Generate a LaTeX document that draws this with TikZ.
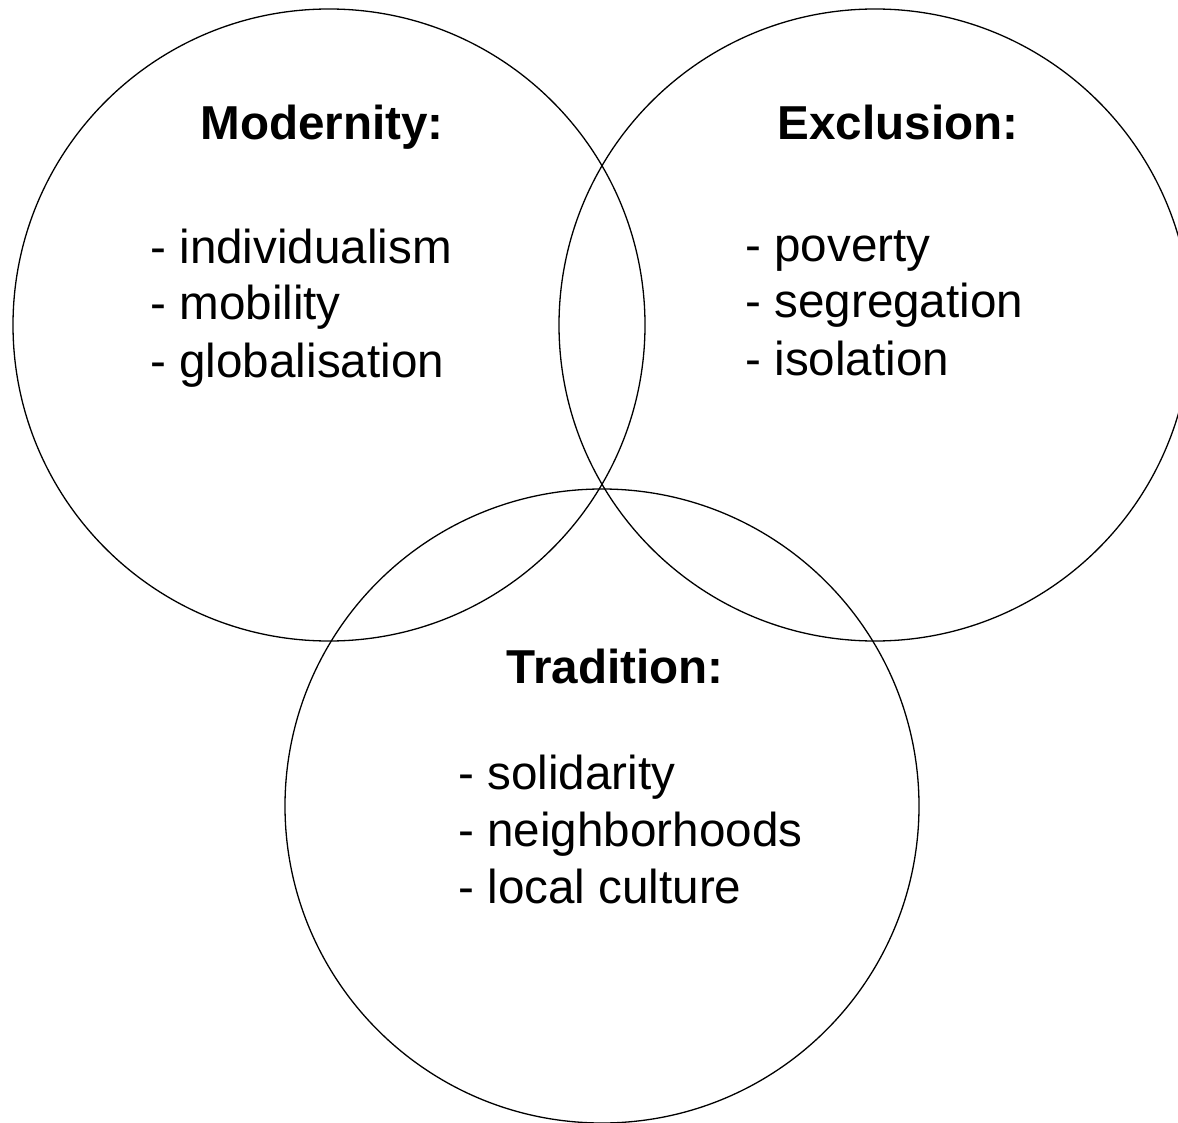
\documentclass[tikz,border=0pt]{standalone}
\usepackage{fontspec}
\setmainfont{Liberation Sans}
\begin{document}
\begin{tikzpicture}[x=0.5pt,y=-0.5pt,
    venn_circle/.style={circle,draw,line width=0.65pt,inner sep=0pt,minimum size=#1},
    head_text/.style={anchor=base,inner sep=0pt,font=\fontsize{23.8}{28.5}\selectfont\bfseries},
    list_text/.style={anchor=base west,inner sep=0pt,align=left,font=\fontsize{23.8}{28.5}\selectfont}]
    \clip (0,0) rectangle (1178,1123);
    \useasboundingbox (0,0) rectangle (1178,1123);
    \node[venn_circle=316pt] (modernity) at (329, 325) {};
    \node[venn_circle=316pt] (exclusion) at (875, 325) {};
    \node[venn_circle=317pt] (tradition) at (602, 806) {};
    \node[head_text] (modernity_head) at (322, 140) {Modernity:};
    \node[list_text] (modernity_list) at (150, 377) {- individualism\\- mobility\\- globalisation};
    \node[head_text] (exclusion_head) at (898, 140) {Exclusion:};
    \node[list_text] (exclusion_list) at (745, 375) {- poverty\\- segregation\\- isolation};
    \node[head_text] (tradition_head) at (615, 683) {Tradition:};
    \node[list_text] (tradition_list) at (458, 903) {- solidarity\\- neighborhoods\\- local culture};
\end{tikzpicture}
\end{document}
